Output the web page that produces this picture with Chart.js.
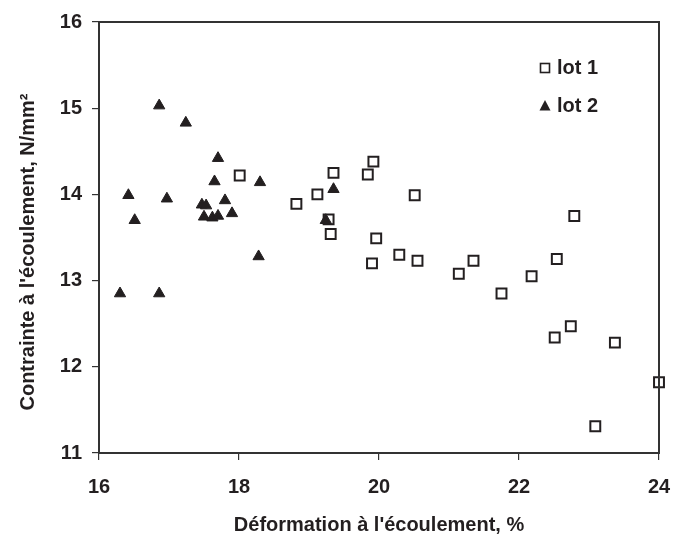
<!DOCTYPE html>
<html>
<head>
<meta charset="utf-8">
<script src="https://cdn.jsdelivr.net/npm/chart.js@4/dist/chart.umd.min.js"></script>
<style>
  html, body { margin: 0; padding: 0; background: #ffffff; }
  #wrap { width: 689px; height: 541px; position: relative; }
</style>
</head>
<body>
<div id="wrap"><canvas id="c" width="689" height="541"></canvas></div>
<script>
// ---- Data ----
const lot1X = [18.01, 18.82, 19.12, 19.35, 19.84, 19.92, 19.28, 19.31, 19.96, 19.90, 20.51, 20.29, 20.55, 21.14, 21.35, 21.75, 22.18, 22.54, 22.51, 22.74, 22.79, 23.37, 24.00, 23.09];
const lot1Y = [14.22, 13.89, 14.00, 14.25, 14.23, 14.38, 13.71, 13.54, 13.49, 13.20, 13.99, 13.30, 13.23, 13.08, 13.23, 12.85, 13.05, 13.25, 12.34, 12.47, 13.75, 12.28, 11.82, 11.31];
const lot2X = [16.86, 17.24, 17.70, 17.65, 18.30, 16.42, 16.97, 17.80, 17.47, 17.53, 19.35, 16.51, 17.50, 17.62, 17.70, 17.90, 19.24, 16.30, 16.86, 18.28];
const lot2Y = [15.03, 14.83, 14.42, 14.15, 14.14, 13.99, 13.95, 13.93, 13.88, 13.87, 14.06, 13.70, 13.74, 13.73, 13.75, 13.78, 13.70, 12.85, 12.85, 13.28];
const seriesLabels = ['lot 1', 'lot 2'];
const xTicks = [16, 18, 20, 22, 24];
const yTicks = [11, 12, 13, 14, 15, 16];
const xTitle = "Déformation à l'écoulement, %";
const yTitle = "Contrainte à l'écoulement, N/mm²";

const INK = '#231f20';
const FONT = "'Liberation Sans', Arial, Helvetica, sans-serif";

function toPoints(xs, ys) { return xs.map((x, i) => ({ x: x, y: ys[i] })); }

const framePlugin = {
  id: 'frame',
  afterDraw(chart) {
    const { ctx, chartArea: a } = chart;
    ctx.save();
    ctx.strokeStyle = '#333333';
    ctx.lineWidth = 2;
    ctx.strokeRect(a.left, a.top, a.right - a.left, a.bottom - a.top);
    ctx.restore();
  }
};

const yTitlePlugin = {
  id: 'ytitle',
  afterDraw(chart) {
    const { ctx } = chart;
    ctx.save();
    ctx.translate(28, 252);
    ctx.rotate(-Math.PI / 2);
    ctx.font = 'bold 20px ' + FONT;
    ctx.fillStyle = INK;
    ctx.textAlign = 'center';
    ctx.textBaseline = 'middle';
    ctx.fillText(yTitle, 0, 0);
    ctx.restore();
  }
};

const legendPlugin = {
  id: 'innerLegend',
  afterDraw(chart) {
    const { ctx } = chart;
    const items = chart.data.datasets;
    const pos = [{ x: 545, y: 68 }, { x: 545, y: 106 }];
    ctx.save();
    items.forEach((ds, i) => {
      const p = pos[i];
      ctx.strokeStyle = INK;
      ctx.fillStyle = INK;
      if (ds.pointStyle === 'rect') {
        ctx.lineWidth = 1.6;
        ctx.strokeRect(p.x - 4.5, p.y - 4.5, 9, 9);
      } else {
        ctx.beginPath();
        ctx.moveTo(p.x, p.y - 6);
        ctx.lineTo(p.x + 5.5, p.y + 4.5);
        ctx.lineTo(p.x - 5.5, p.y + 4.5);
        ctx.closePath();
        ctx.fill();
      }
      ctx.font = 'bold 20px ' + FONT;
      ctx.textAlign = 'left';
      ctx.textBaseline = 'middle';
      ctx.fillText(ds.label, 557, p.y);
    });
    ctx.restore();
  }
};

new Chart(document.getElementById('c'), {
  type: 'scatter',
  data: {
    datasets: [
      {
        label: seriesLabels[0],
        data: toPoints(lot1X, lot1Y),
        pointStyle: 'rect',
        pointRadius: 7,
        pointHoverRadius: 7,
        borderWidth: 2,
        borderColor: INK,
        backgroundColor: 'rgba(255,255,255,0)',
        clip: false
      },
      {
        label: seriesLabels[1],
        data: toPoints(lot2X, lot2Y),
        pointStyle: 'triangle',
        pointRadius: 6.5,
        pointHoverRadius: 6.5,
        borderWidth: 1,
        borderColor: INK,
        backgroundColor: INK,
        clip: false
      }
    ]
  },
  options: {
    responsive: false,
    animation: false,
    events: [],
    layout: { padding: { top: 17, right: 30, left: 0, bottom: 0 } },
    plugins: {
      legend: { display: false },
      tooltip: { enabled: false }
    },
    scales: {
      x: {
        type: 'linear',
        min: 16, max: 24,
        afterBuildTicks(scale) { scale.ticks = xTicks.map(v => ({ value: v })); },
        afterFit(scale) { scale.height = 88; },
        grid: { display: true, drawOnChartArea: false, drawTicks: true, tickLength: 7, color: '#333333', lineWidth: 1.2 },
        border: { display: true, color: '#333333', width: 2 },
        ticks: { color: INK, font: { family: FONT, size: 20, weight: 'bold' }, padding: 15, maxRotation: 0 },
        title: { display: true, text: xTitle, color: INK, font: { family: FONT, size: 20, weight: 'bold' }, padding: { top: 0, bottom: 4 } }
      },
      y: {
        type: 'linear',
        min: 11, max: 16,
        afterBuildTicks(scale) { scale.ticks = yTicks.map(v => ({ value: v })); },
        afterFit(scale) { scale.width = 99; },
        grid: { display: true, drawOnChartArea: false, drawTicks: true, tickLength: 7, color: '#333333', lineWidth: 1.2 },
        border: { display: true, color: '#333333', width: 2 },
        ticks: { color: INK, font: { family: FONT, size: 20, weight: 'bold' }, padding: 10 },
        title: { display: false }
      }
    }
  },
  plugins: [framePlugin, yTitlePlugin, legendPlugin]
});
</script>
</body>
</html>
